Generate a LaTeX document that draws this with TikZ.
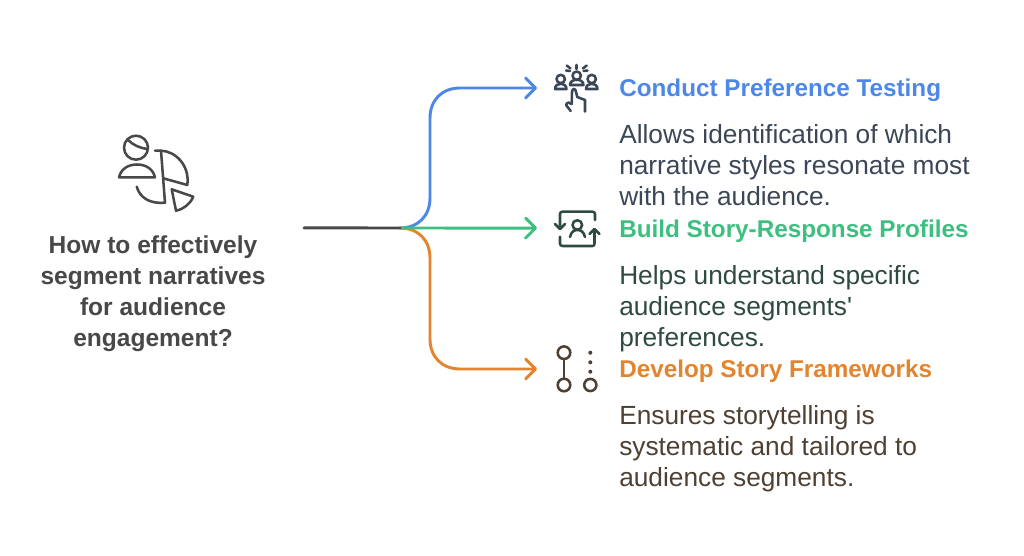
\documentclass[tikz,border=0pt]{standalone}
\usepackage{fontspec}
\setmainfont{Liberation Sans}
\newfontfamily\plainfont{Liberation Sans}
\usetikzlibrary{arrows.meta}
\definecolor{cblue}{HTML}{4F87E6}
\definecolor{cgreen}{HTML}{3DBF7F}
\definecolor{corange}{HTML}{E3852F}
\definecolor{cdark}{HTML}{484848}
\definecolor{tblue}{HTML}{3B4657}
\definecolor{tgreen}{HTML}{2F4A42}
\definecolor{tbrown}{HTML}{4E4033}
\tikzset{
  conn/.style={line width=2.2pt,line cap=round,-{Straight Barb[length=7.5pt,width=15pt,line width=2.2pt,round]}},
  head/.style={anchor=base west,inner sep=0pt,font=\fontsize{18.2pt}{23pt}\selectfont\bfseries},
  body/.style={anchor=north west,inner sep=0pt,align=left,font=\fontsize{19.7pt}{23.25pt}\selectfont},
  qtext/.style={anchor=north,inner sep=0pt,align=center,text=cdark,font=\fontsize{18.4pt}{23.25pt}\selectfont\bfseries},
  icon/.style={line width=1.9pt,line cap=round,line join=round},
}
\begin{document}
\begin{tikzpicture}[x=0.75pt,y=-0.75pt]
\useasboundingbox (0,0) rectangle (1024,556);
\fill[white] (0,0) rectangle (1024,556);
% text
\node[qtext] (q) at (153,235) {How to effectively\\segment narratives\\for audience\\engagement?};
\node[head,text=cblue] (h1) at (619,97) {Conduct Preference Testing};
\node[body,text=tblue] (b1) at (619,124) {Allows identification of which\\narrative styles resonate most\\with the audience.};
\node[head,text=cgreen] (h2) at (619,237) {Build Story-Response Profiles};
\node[body,text=tgreen] (b2) at (619,265) {Helps understand specific\\audience segments{\plainfont '}\\preferences.};
\node[head,text=corange] (h3) at (619,377) {Develop Story Frameworks};
\node[body,text=tbrown] (b3) at (619,405) {Ensures storytelling is\\systematic and tailored to\\audience segments.};
% connectors
\coordinate (start) at (304,227.9);
\coordinate (hub) at (400,228);
\coordinate (e1) at (537,88);
\coordinate (e2) at (537,228.1);
\coordinate (e3) at (537,369);
\draw[conn,cblue] (hub) .. controls (418,228) and (430,216) .. (430,198) -- (430,118) .. controls (430,100) and (442,88) .. (460,88) -- (e1);
\draw[conn,corange] (hub) .. controls (418,228) and (430,240) .. (430,258) -- (430,339) .. controls (430,357) and (442,369) .. (460,369) -- (e3);
\draw[conn,cgreen] (hub) -- (e2);
\draw[line width=2.2pt,cdark,line cap=round] (start) -- (hub);
% icon: question
\begin{scope}[icon,cdark]
\draw (136,147.7) circle (12);
\draw (128,140) .. controls (133,145) and (140,148) .. (147,149);
\draw (119,177.3) .. controls (121,169) and (128,164.5) .. (137,164.5) .. controls (146,164.5) and (153,169) .. (155,177.3) -- cycle;
\draw (155,150.7) -- (161,150.7) .. controls (175,151) and (190,165) .. (187.3,185) -- (163.3,178.3);
\draw (161,150.7) -- (165,202.7) .. controls (150,204) and (140,198) .. (136.7,186.7);
\draw (171.7,189.3) -- (193.3,196.7) .. controls (190,204) and (184,209) .. (176,210.7) -- cycle;
\end{scope}
% icon: testing
\begin{scope}[icon,tblue]
\draw (576.7,75.7) circle (4.2);
\draw (570,85) .. controls (570,78) and (583.5,78) .. (583.5,85) -- cycle;
\draw (560.7,79) circle (4.2);
\draw (555,89) .. controls (555,82) and (566.5,82) .. (566.5,89) -- cycle;
\draw (591.7,79) circle (4.2);
\draw (586,89) .. controls (586,82) and (597.5,82) .. (597.5,89) -- cycle;
\draw (576.7,65) -- (576.7,69);
\draw (566.7,65.5) -- (570.5,68.5);
\draw (586.7,65.5) -- (582.9,68.5);
\draw (566,70.5) -- (570,71);
\draw (587.5,70.5) -- (583.5,71);
\draw (566,105) -- (570.7,111);
\draw (566,105) .. controls (567,102) and (570,102) .. (571.7,104) -- (572,92) .. controls (572,88) and (576,88) .. (576,92) -- (577.3,97) -- (585,100) -- (585,111.7);
\end{scope}
% icon: profiles
\begin{scope}[icon,tgreen]
\draw (560,228) -- (560,214) .. controls (560,212.5) and (561,211.7) .. (562.5,211.7) -- (592.5,211.7) .. controls (594,211.7) and (595,212.5) .. (595,214) -- (595,220);
\draw (555,224) -- (560,229) -- (565,224);
\draw (560,236.7) -- (560,243.5) .. controls (560,245) and (561,246) .. (562.5,246) -- (592.5,246) .. controls (594,246) and (594.5,245) .. (594.5,243.5) -- (594.5,229.5);
\draw (589.5,234) -- (594.5,229) -- (599.5,234);
\draw (577.3,225) circle (4.8);
\draw (570,237) .. controls (571,232) and (574,230) .. (577.3,230) .. controls (581,230) and (584,232) .. (585,237);
\end{scope}
% icon: frameworks
\begin{scope}[icon,tbrown]
\draw (564,352.7) circle (6.3);
\draw (564,385) circle (6.3);
\draw (564,359) -- (564,378.7);
\draw (590.3,385) circle (6.1);
\fill (590.3,352.7) circle (2);
\fill (590.3,362.3) circle (2);
\fill (590.3,371.7) circle (2);
\end{scope}
\end{tikzpicture}
\end{document}
